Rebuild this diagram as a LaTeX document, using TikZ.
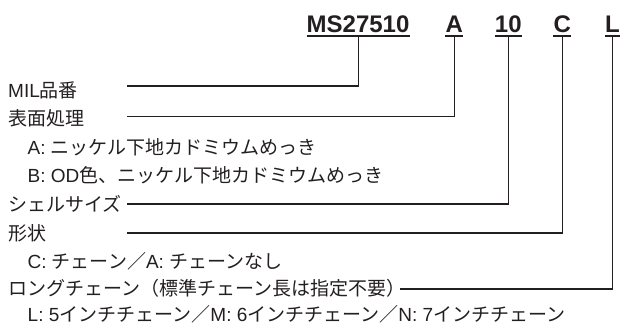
\documentclass[tikz,border=0pt]{standalone}
\usepackage{fontspec}
\setmainfont{Liberation Sans}
\newfontfamily\jp{Noto Sans CJK JP}
\definecolor{ink}{HTML}{231F20}
\begin{document}
\begin{tikzpicture}[x=1pt,y=-1pt,
  code/.style={inner sep=0pt, anchor=base west, font=\fontsize{24}{24}\selectfont\bfseries, text=ink},
  lbl/.style={inner sep=0pt, anchor=base west, font=\fontsize{19}{19}\selectfont, text=ink},
  conn/.style={draw=ink, line width=1.1pt},
  ul/.style={draw=ink, line width=1.4pt}]
\useasboundingbox (0,0) rectangle (620,329);
% heading code
\node[code] (ms) at (306.5,33) {MS27510};
\node[code] (ca) at (445.3,33) {A};
\node[code] (cs) at (494.7,33) {10};
\node[code] (cc) at (553.3,33) {C};
\node[code] (cl) at (605,33) {L};
\foreach \n in {ms,ca,cs,cc,cl}{
  \draw[ul] ([yshift=-3pt]\n.base west) -- ([yshift=-3pt]\n.base east);
}
% labels
\node[lbl] (r1) at (8,97) {MIL{\jp 品番}};
\node[lbl] (r2) at (8,125) {{\jp 表面処理}};
\node[lbl] (r3) at (27.5,154) {A: {\jp ニッケル下地カドミウムめっき}};
\node[lbl] (r4) at (27.5,182) {B: OD{\jp 色、ニッケル下地カドミウムめっき}};
\node[lbl] (r5) at (8,211) {{\jp シェルサイズ}};
\node[lbl] (r6) at (8,240) {{\jp 形状}};
\node[lbl] (r7) at (27.5,268) {C: {\jp チェーン／}A: {\jp チェーンなし}};
\node[lbl] (r8) at (8,295) {{\jp ロングチェーン（標準チェーン長は指定不要）}};
\node[lbl] (r9) at (27.5,321) {L: 5{\jp インチチェーン／}M: 6{\jp インチチェーン／}N: 7{\jp インチチェーン}};
% connector free ends
\coordinate (e1) at (127,86);
\coordinate (e2) at (127,116.5);
\coordinate (e5) at (127,204);
\coordinate (e6) at (127,233);
\coordinate (e8) at (400,289);
\draw[conn] ([yshift=-3pt]ms.base) |- (e1);
\draw[conn] ([yshift=-3pt]ca.base) |- (e2);
\draw[conn] ([yshift=-3pt]cs.base) |- (e5);
\draw[conn] ([yshift=-3pt]cc.base) |- (e6);
\draw[conn] ([yshift=-3pt]cl.base) |- (e8);
\end{tikzpicture}
\end{document}
